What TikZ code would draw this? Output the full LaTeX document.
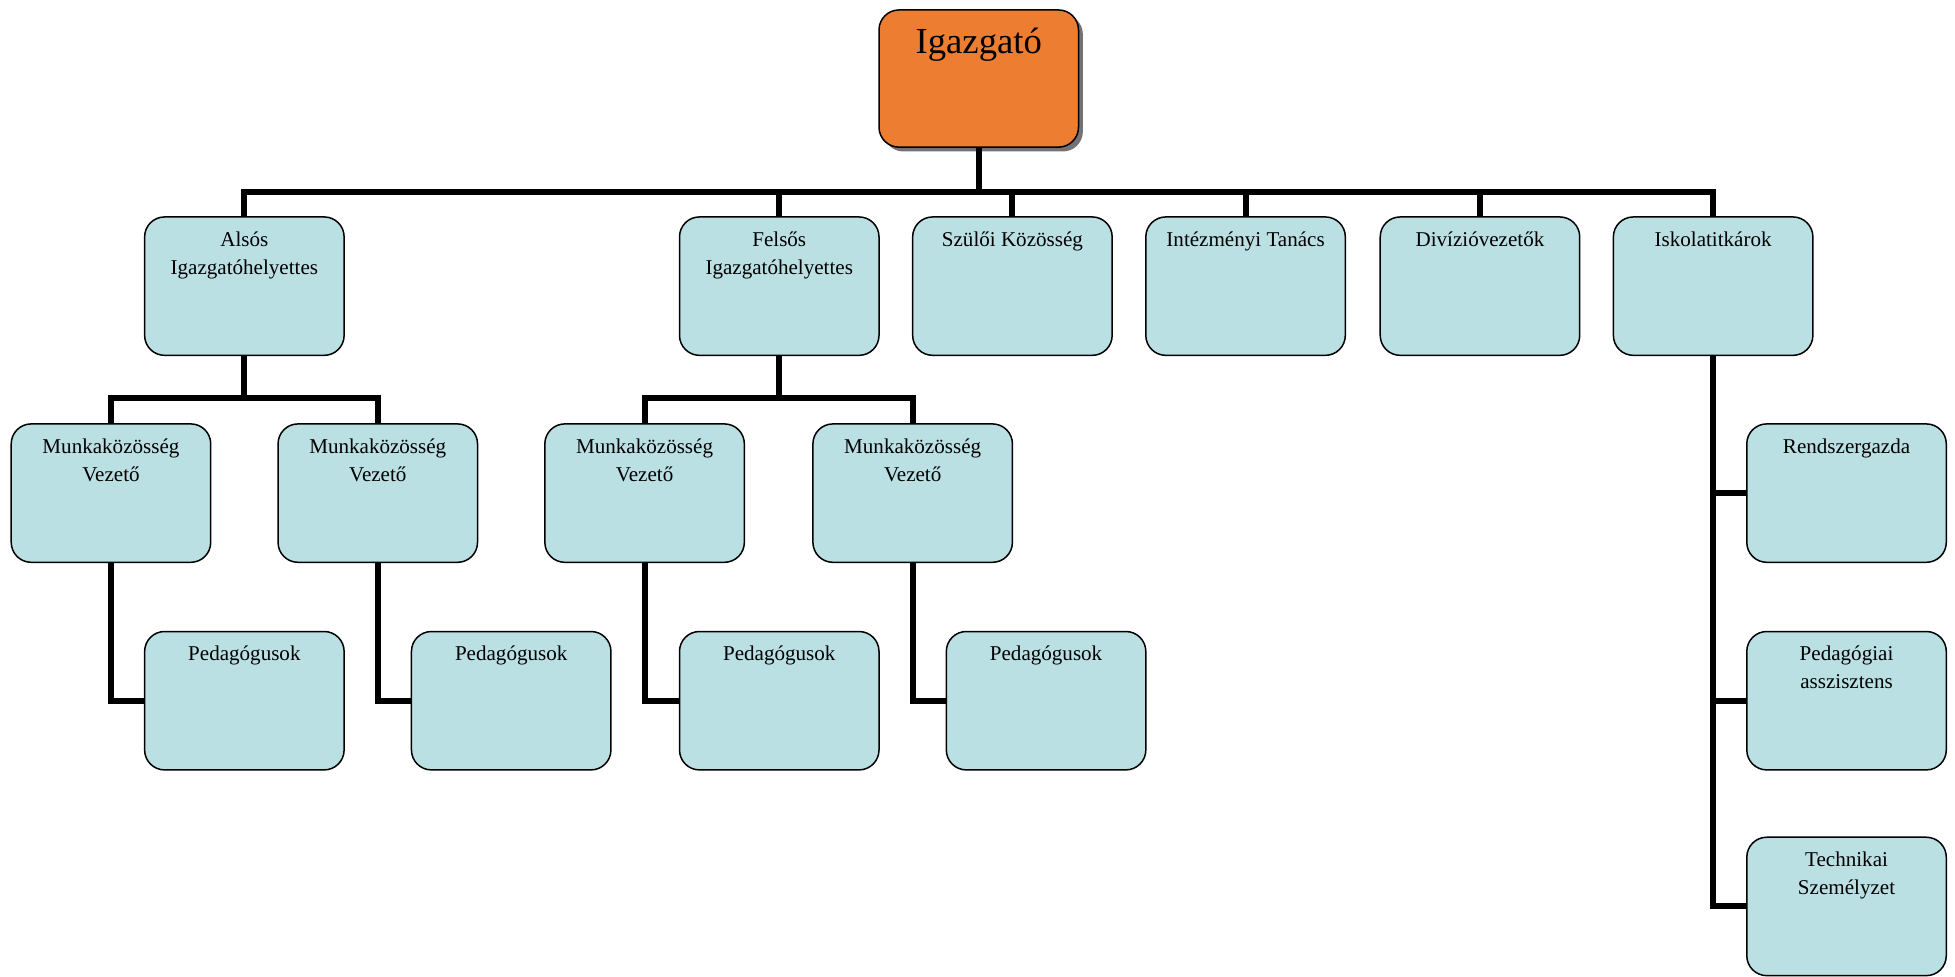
\documentclass[tikz,border=0pt]{standalone}
\usepackage{fontspec}
\setmainfont{Liberation Serif}
\usetikzlibrary{shadows}
\definecolor{boxblue}{RGB}{186,224,227}
\definecolor{boxorange}{RGB}{237,125,49}
\newcommand\boxtxt[1]{\parbox[c][111pt][t]{160pt}{\centering\fontsize{16.9}{22.5}\selectfont\rule{0pt}{23.5pt}#1\par}}
\newcommand\toptxt[1]{\parbox[c][110pt][t]{160pt}{\centering\fontsize{29.4}{34}\selectfont\rule{0pt}{35pt}#1\par}}
\tikzset{
  orgbox/.style={draw=black, line width=1.2pt, rounded corners=16pt, fill=boxblue, inner sep=0pt, outer sep=0pt},
  headbox/.style={orgbox, fill=boxorange, drop shadow={shadow xshift=3.5pt, shadow yshift=-3.5pt, fill=black!55, opacity=1}},
  conn/.style={draw=black, line width=4.8pt, line join=miter}
}
\begin{document}
\begin{tikzpicture}[x=1pt,y=-1pt]
\useasboundingbox (0,0) rectangle (1568,783);
% nodes
\node[headbox] (top) at (785,63) {\toptxt{Igazgató}};
\node[orgbox] (also) at (196,229.5) {\boxtxt{Alsós\\Igazgatóhelyettes}};
\node[orgbox] (felso) at (625,229.5) {\boxtxt{Felsős\\Igazgatóhelyettes}};
\node[orgbox] (szuloi) at (812,229.5) {\boxtxt{Szülői Közösség}};
\node[orgbox] (intez) at (999,229.5) {\boxtxt{Intézményi Tanács}};
\node[orgbox] (diviz) at (1187,229.5) {\boxtxt{Divízióvezetők}};
\node[orgbox] (iskola) at (1374,229.5) {\boxtxt{Iskolatitkárok}};
\node[orgbox] (mv1) at (89,395.5) {\boxtxt{Munkaközösség\\Vezető}};
\node[orgbox] (mv2) at (303,395.5) {\boxtxt{Munkaközösség\\Vezető}};
\node[orgbox] (mv3) at (517,395.5) {\boxtxt{Munkaközösség\\Vezető}};
\node[orgbox] (mv4) at (732,395.5) {\boxtxt{Munkaközösség\\Vezető}};
\node[orgbox] (p1) at (196,562) {\boxtxt{Pedagógusok}};
\node[orgbox] (p2) at (410,562) {\boxtxt{Pedagógusok}};
\node[orgbox] (p3) at (625,562) {\boxtxt{Pedagógusok}};
\node[orgbox] (p4) at (839,562) {\boxtxt{Pedagógusok}};
\node[orgbox] (rendsz) at (1481,395.5) {\boxtxt{Rendszergazda}};
\node[orgbox] (pedasz) at (1481,562) {\boxtxt{Pedagógiai\\asszisztens}};
\node[orgbox] (techn) at (1481,727) {\boxtxt{Technikai\\Személyzet}};
% connectors
\foreach \c in {also,felso,szuloi,intez,diviz,iskola}
  \draw[conn] (top.south) -- (top.south |- 0,154) -| (\c.north);
\foreach \c in {mv1,mv2}
  \draw[conn] (also.south) -- (also.south |- 0,319) -| (\c.north);
\foreach \c in {mv3,mv4}
  \draw[conn] (felso.south) -- (felso.south |- 0,319) -| (\c.north);
\draw[conn] (mv1.south) |- (p1.west);
\draw[conn] (mv2.south) |- (p2.west);
\draw[conn] (mv3.south) |- (p3.west);
\draw[conn] (mv4.south) |- (p4.west);
\foreach \c in {rendsz,pedasz,techn}
  \draw[conn] (iskola.south) |- (\c.west);
\end{tikzpicture}
\end{document}
